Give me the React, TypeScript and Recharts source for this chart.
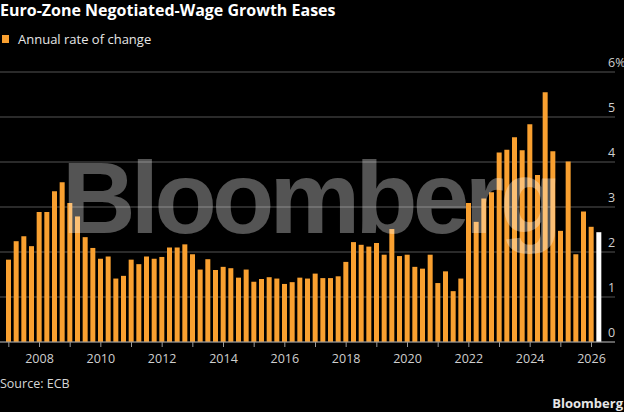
import React from "react";
import { BarChart, Bar, XAxis, YAxis, CartesianGrid, Cell } from "recharts";

const quarters: string[] = [
  "2007Q1", "2007Q2", "2007Q3", "2007Q4",
  "2008Q1", "2008Q2", "2008Q3", "2008Q4",
  "2009Q1", "2009Q2", "2009Q3", "2009Q4",
  "2010Q1", "2010Q2", "2010Q3", "2010Q4",
  "2011Q1", "2011Q2", "2011Q3", "2011Q4",
  "2012Q1", "2012Q2", "2012Q3", "2012Q4",
  "2013Q1", "2013Q2", "2013Q3", "2013Q4",
  "2014Q1", "2014Q2", "2014Q3", "2014Q4",
  "2015Q1", "2015Q2", "2015Q3", "2015Q4",
  "2016Q1", "2016Q2", "2016Q3", "2016Q4",
  "2017Q1", "2017Q2", "2017Q3", "2017Q4",
  "2018Q1", "2018Q2", "2018Q3", "2018Q4",
  "2019Q1", "2019Q2", "2019Q3", "2019Q4",
  "2020Q1", "2020Q2", "2020Q3", "2020Q4",
  "2021Q1", "2021Q2", "2021Q3", "2021Q4",
  "2022Q1", "2022Q2", "2022Q3", "2022Q4",
  "2023Q1", "2023Q2", "2023Q3", "2023Q4",
  "2024Q1", "2024Q2", "2024Q3", "2024Q4",
  "2025Q1", "2025Q2", "2025Q3", "2025Q4",
  "2026Q1", "2026Q2",
];

const wageGrowth: number[] = [
  1.83, 2.24, 2.35, 2.13,
  2.89, 2.89, 3.35, 3.55,
  3.09, 2.79, 2.33, 2.09,
  1.85, 1.9, 1.41, 1.47,
  1.83, 1.73, 1.9, 1.85,
  1.89, 2.1, 2.1, 2.17,
  1.95, 1.61, 1.84, 1.6,
  1.67, 1.64, 1.43, 1.61,
  1.34, 1.4, 1.44, 1.41,
  1.29, 1.33, 1.43, 1.41,
  1.52, 1.42, 1.42, 1.46,
  1.78, 2.22, 2.16, 2.12,
  2.2, 1.94, 2.51, 1.91,
  1.94, 1.67, 1.63, 1.94,
  1.31, 1.57, 1.13, 1.41,
  3.09, 2.67, 3.19, 3.33,
  4.21, 4.27, 4.55, 4.26,
  4.84, 3.71, 5.55, 4.24,
  2.47, 4.01, 1.95, 2.9,
  2.56, 2.44,
];

const highlighted: string[] = ["2026Q2"];

const yearTicks: string[] = [
  "2007Q1", "2008Q1", "2009Q1", "2010Q1", "2011Q1", "2012Q1", "2013Q1",
  "2014Q1", "2015Q1", "2016Q1", "2017Q1", "2018Q1", "2019Q1", "2020Q1",
  "2021Q1", "2022Q1", "2023Q1", "2024Q1", "2025Q1", "2026Q1",
];

const yTicks: number[] = [0, 1, 2, 3, 4, 5, 6];

const data = quarters.map((q, i) => ({ q, value: wageGrowth[i] }));

const ORANGE = "#f9a030";
const FONT = "'Open Sans', 'DejaVu Sans', sans-serif";

const YTick = (props: any) => {
  const { y, payload } = props;
  const v = payload.value;
  return (
    <text x={608} y={y - 5} fill="#cfcfcf" fontSize={12.5} fontFamily={FONT}>
      {v === 6 ? "6%" : String(v)}
    </text>
  );
};

export default function App() {
  return (
    <div
      style={{
        position: "absolute",
        left: 0,
        top: 0,
        width: 624,
        height: 412,
        background: "#000",
        overflow: "hidden",
        fontFamily: FONT,
      }}
    >
      <div
        style={{
          position: "absolute",
          left: 0,
          top: 0,
          color: "#fff",
          fontWeight: 700,
          fontSize: 16,
          lineHeight: "20px",
          whiteSpace: "nowrap",
        }}
      >
        Euro-Zone Negotiated-Wage Growth Eases
      </div>
      <div
        style={{
          position: "absolute",
          left: 2,
          top: 35,
          width: 7,
          height: 8,
          background: ORANGE,
        }}
      />
      <div
        style={{
          position: "absolute",
          left: 18,
          top: 30,
          color: "#e6e6e6",
          fontSize: 13,
          lineHeight: "18px",
          whiteSpace: "nowrap",
        }}
      >
        Annual rate of change
      </div>
      <div style={{ position: "absolute", left: 0, top: 0 }}>
        <BarChart
          width={624}
          height={412}
          data={data}
          margin={{ top: 72, right: 0, bottom: 40, left: 0 }}
        >
          <CartesianGrid vertical={false} stroke="#555" strokeWidth={1} />
          <XAxis
            dataKey="q"
            ticks={yearTicks}
            interval={0}
            height={30}
            padding={{ left: 5, right: 12 }}
            tickFormatter={(v: string) => {
              const yr = parseInt(v.slice(0, 4), 10);
              return yr % 2 === 0 ? String(yr) : "";
            }}
            axisLine={{ stroke: "#9a9a9a" }}
            tickLine={{ stroke: "#9a9a9a" }}
            tickSize={5}
            tickMargin={7}
            tick={{ fill: "#cfcfcf", fontSize: 12.5, fontFamily: FONT }}
          />
          <YAxis
            orientation="right"
            domain={[0, 6]}
            ticks={yTicks}
            width={9}
            axisLine={false}
            tickLine={false}
            tick={<YTick />}
            interval={0}
          />
          <Bar dataKey="value" barSize={5} isAnimationActive={false}>
            {data.map((d) => (
              <Cell
                key={d.q}
                fill={highlighted.includes(d.q) ? "#ffffff" : ORANGE}
              />
            ))}
          </Bar>
        </BarChart>
      </div>
      <div
        style={{
          position: "absolute",
          left: 62,
          top: 138,
          fontFamily: "'Liberation Sans', Arial, sans-serif",
          fontWeight: 700,
          fontSize: 102,
          lineHeight: "120px",
          letterSpacing: -4.8,
          color: "rgba(255,255,255,0.33)",
          whiteSpace: "nowrap",
          pointerEvents: "none",
        }}
      >
        Bloomberg
      </div>
      <div
        style={{
          position: "absolute",
          left: 0,
          top: 375,
          color: "#d6d6d6",
          fontSize: 12.5,
          lineHeight: "18px",
          whiteSpace: "nowrap",
        }}
      >
        Source: ECB
      </div>
      <div
        style={{
          position: "absolute",
          right: 1,
          top: 394,
          color: "#e6e6e6",
          fontSize: 13,
          fontWeight: 700,
          lineHeight: "18px",
          whiteSpace: "nowrap",
        }}
      >
        Bloomberg
      </div>
    </div>
  );
}
